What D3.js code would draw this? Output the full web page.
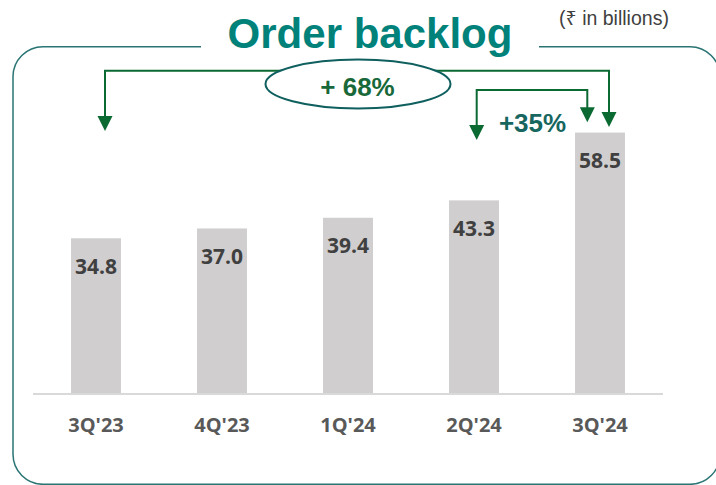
<!DOCTYPE html>
<html>
<head>
  <meta charset="utf-8">
  <title>Order backlog</title>
<script src="https://d3js.org/d3.v7.min.js"></script>
  <style>
    body { margin: 0; background: #fff; }
    .bar { fill: #d0cece; }
    .val { font: 700 21px "Open Sans", sans-serif; fill: #404040; }
    .cat { font: 700 20px "Open Sans", sans-serif; fill: #595959; }
    .arrow { fill: none; stroke: #0b6a32; stroke-width: 2px; }
    .head { fill: #0b6a32; }
  </style>
</head>
<body>
  <script>
    // chart data
    const quarters = ["3Q'23", "4Q'23", "1Q'24", "2Q'24", "3Q'24"];
    const backlog = [34.8, 37.0, 39.4, 43.3, 58.5];
    const growthLabels = ["+ 68%", "+35%"];

    const width = 716, height = 485;

    const svg = d3.select("body").append("svg")
        .attr("width", width)
        .attr("height", height);

    const x = d3.scaleBand()
        .domain(quarters)
        .range([33, 663])
        .paddingInner(0.603)
        .paddingOuter(0.3015);

    const y = d3.scaleLinear()
        .domain([0, 60])
        .range([393.5, 125.9]);

    // rounded frame with a gap for the title
    const fTop = 46.7, fBot = 484.3, fLeft = 13, fRight = 720, r = 30;
    svg.append("path")
        .attr("d", `M201,${fTop} L${fLeft + r},${fTop} A${r},${r} 0 0 0 ${fLeft},${fTop + r}
          L${fLeft},${fBot - r} A${r},${r} 0 0 0 ${fLeft + r},${fBot}
          L${fRight - r},${fBot} A${r},${r} 0 0 0 ${fRight},${fBot - r}
          L${fRight},${fTop + r} A${r},${r} 0 0 0 ${fRight - r},${fTop} L539,${fTop}`)
        .attr("fill", "none")
        .attr("stroke", "#2a7474")
        .attr("stroke-width", 1.5);

    svg.append("text")
        .attr("x", 370)
        .attr("y", 48)
        .attr("text-anchor", "middle")
        .style("font", "700 42px 'Liberation Sans', Arial, sans-serif")
        .style("fill", "#00827b")
        .text("Order backlog");

    svg.append("text")
        .attr("x", 614)
        .attr("y", 25)
        .attr("text-anchor", "middle")
        .style("font", "19.5px 'Liberation Sans', Arial, 'Noto Sans', sans-serif")
        .style("fill", "#404040")
        .text("(₹ in billions)");

    // bars
    svg.selectAll(".bar")
        .data(backlog)
        .enter().append("rect")
        .attr("class", "bar")
        .attr("x", (d, i) => x(quarters[i]))
        .attr("y", d => y(d))
        .attr("width", x.bandwidth())
        .attr("height", d => y(0) - y(d));

    // baseline
    svg.append("line")
        .attr("x1", x.range()[0])
        .attr("x2", x.range()[1])
        .attr("y1", y(0) + 0.5)
        .attr("y2", y(0) + 0.5)
        .attr("stroke", "#d9d9d9")
        .attr("stroke-width", 2);

    svg.selectAll(".val")
        .data(backlog)
        .enter().append("text")
        .attr("class", "val")
        .attr("x", (d, i) => x(quarters[i]) + x.bandwidth() / 2)
        .attr("y", d => y(d) + 35.5)
        .attr("text-anchor", "middle")
        .text(d => d.toFixed(1));

    svg.selectAll(".cat")
        .data(quarters)
        .enter().append("text")
        .attr("class", "cat")
        .attr("x", d => x(d) + x.bandwidth() / 2)
        .attr("y", 432)
        .attr("text-anchor", "middle")
        .text(d => d);

    // growth arrows
    const cx = q => x(q) + x.bandwidth() / 2;
    function bracket(x1, x2, yTop, tip1, tip2) {
      svg.append("path")
          .attr("class", "arrow")
          .attr("d", `M${x1},${tip1 - 12} L${x1},${yTop} L${x2},${yTop} L${x2},${tip2 - 12}`);
      [[x1, tip1], [x2, tip2]].forEach(([ax, ay]) => {
        svg.append("path")
            .attr("class", "head")
            .attr("d", `M${ax - 7.5},${ay - 15} L${ax + 7.5},${ay - 15} L${ax},${ay} Z`);
      });
    }
    bracket(cx(quarters[0]) + 9, cx(quarters[4]) + 9, 70.7, 131, 127);
    bracket(cx(quarters[3]) + 2.7, cx(quarters[4]) - 12.7, 90, 140, 122.3);

    svg.append("ellipse")
        .attr("cx", 358)
        .attr("cy", 84)
        .attr("rx", 92.5)
        .attr("ry", 24.5)
        .attr("fill", "#fff")
        .attr("stroke", "#0f5f5f")
        .attr("stroke-width", 2);

    svg.append("text")
        .attr("x", 357.5)
        .attr("y", 95.5)
        .attr("text-anchor", "middle")
        .style("font", "700 26px 'Liberation Sans', Arial, sans-serif")
        .style("fill", "#18683a")
        .text(growthLabels[0]);

    svg.append("text")
        .attr("x", 532.5)
        .attr("y", 132.3)
        .attr("text-anchor", "middle")
        .style("font", "700 26px 'Liberation Sans', Arial, sans-serif")
        .style("fill", "#176660")
        .text(growthLabels[1]);
  </script>
</body>
</html>
